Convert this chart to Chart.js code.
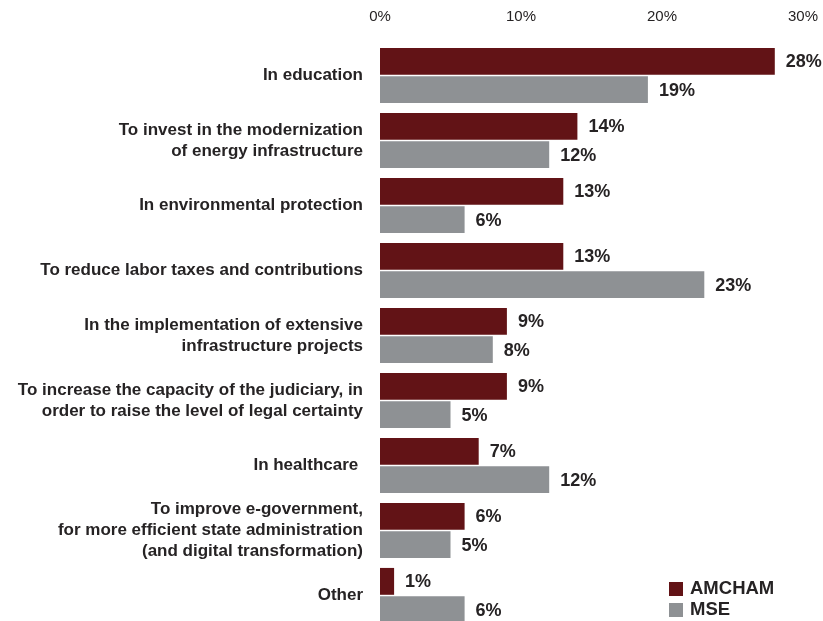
<!DOCTYPE html>
<html>
<head>
<meta charset="utf-8">
<script src="https://cdn.jsdelivr.net/npm/chart.js@4"></script>
<style>
  html, body { margin: 0; padding: 0; background: #fff; overflow: hidden; }
  #wrap { width: 823px; height: 640px; }
</style>
</head>
<body>
<div id="wrap"><canvas id="chart"></canvas></div>
<script>
// categories (multi-line ones split into arrays)
const categories = [
    'In education',
    ['To invest in the modernization', 'of energy infrastructure'],
    'In environmental protection',
    'To reduce labor taxes and contributions',
    ['In the implementation of extensive', 'infrastructure projects'],
    ['To increase the capacity of the judiciary, in', 'order to raise the level of legal certainty'],
    'In healthcare ',
    ['To improve e-government,', 'for more efficient state administration', '(and digital transformation)'],
    'Other'
];

const amchamValues = [28, 14, 13, 13, 9, 9, 7, 6, 1];
const mseValues = [19, 12, 6, 23, 8, 5, 12, 5, 6];

const xTicks = [0, 10, 20, 30];

const RED = '#621316';
const GREY = '#8e9194';
const INK = '#262324';
const FONT = '"Liberation Sans", Arial, Helvetica, sans-serif';

// value labels at the end of each bar
const valueLabels = {
    id: 'valueLabels',
    afterDatasetsDraw(chart) {
        const ctx = chart.ctx;
        ctx.save();
        ctx.font = 'bold 18px ' + FONT;
        ctx.fillStyle = INK;
        ctx.textAlign = 'left';
        ctx.textBaseline = 'middle';
        chart.data.datasets.forEach((ds, i) => {
            chart.getDatasetMeta(i).data.forEach((bar, j) => {
                ctx.fillText(ds.data[j] + '%', bar.x + 11, bar.y + 1);
            });
        });
        ctx.restore();
    }
};

// legend in the lower right corner
const cornerLegend = {
    id: 'cornerLegend',
    afterDraw(chart) {
        const ctx = chart.ctx;
        const area = chart.chartArea;
        const x = area.right - 134;
        let y = 582;
        ctx.save();
        ctx.font = 'bold 18.5px ' + FONT;
        ctx.textBaseline = 'middle';
        chart.data.datasets.forEach(ds => {
            ctx.fillStyle = ds.backgroundColor;
            ctx.fillRect(x, y, 14, 14);
            ctx.fillStyle = INK;
            ctx.fillText(ds.label, x + 21, y + 7);
            y += 21;
        });
        ctx.restore();
    }
};

new Chart(document.getElementById('chart'), {
    type: 'bar',
    data: {
        labels: categories,
        datasets: [
            { label: 'AMCHAM', data: amchamValues, backgroundColor: RED },
            { label: 'MSE', data: mseValues, backgroundColor: GREY }
        ]
    },
    options: {
        indexAxis: 'y',
        responsive: true,
        maintainAspectRatio: false,
        animation: false,
        layout: { padding: { left: 0, right: 20, top: 0, bottom: 12 } },
        datasets: {
            bar: { categoryPercentage: 0.87, barPercentage: 0.95 }
        },
        scales: {
            x: {
                position: 'top',
                min: 0,
                max: 30,
                afterBuildTicks: scale => { scale.ticks = xTicks.map(v => ({ value: v })); },
                afterFit: scale => {
                    scale.height = 43;
                    scale.paddingLeft = 0;
                    scale.paddingRight = 0;
                },
                grid: { display: false, drawTicks: false },
                border: { display: false },
                ticks: {
                    padding: 17,
                    color: INK,
                    font: { family: FONT, size: 15 },
                    callback: v => v + '%'
                }
            },
            y: {
                afterFit: scale => {
                    scale.width = 380;
                    scale.paddingTop = 0;
                    scale.paddingBottom = 0;
                },
                grid: { display: false, drawTicks: false },
                border: { display: false },
                ticks: {
                    autoSkip: false,
                    padding: 17,
                    color: INK,
                    font: { family: FONT, size: 17, weight: 'bold', lineHeight: 1.22 }
                }
            }
        },
        plugins: {
            legend: { display: false },
            tooltip: { enabled: false }
        }
    },
    plugins: [valueLabels, cornerLegend]
});
</script>
</body>
</html>
